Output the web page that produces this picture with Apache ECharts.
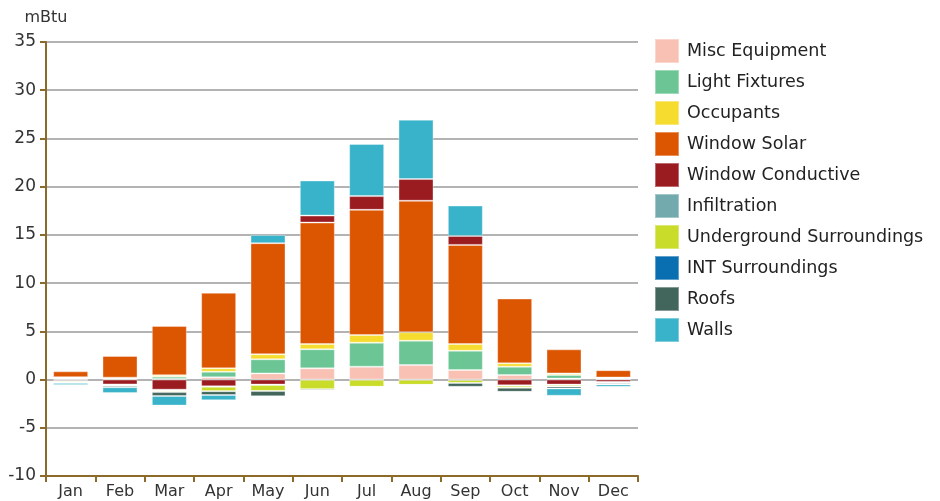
<!DOCTYPE html>
<html>
<head>
<meta charset="utf-8">
<title>mBtu</title>
<script src="https://cdn.jsdelivr.net/npm/echarts@6/dist/echarts.min.js"></script>
<style>
  html, body { margin: 0; padding: 0; background: #fff; }
  #loadChart { width: 940px; height: 501px; }
</style>
</head>
<body>
<div id="loadChart"></div>
<script>
// 月份
var months = ['Jan', 'Feb', 'Mar', 'Apr', 'May', 'Jun', 'Jul', 'Aug', 'Sep', 'Oct', 'Nov', 'Dec'];
// y轴刻度
var yTicks = [-10, -5, 0, 5, 10, 15, 20, 25, 30, 35];

// 各分项负荷 (mBtu)
var miscEquipment  = [0.05, 0.05, 0.05, 0.23, 0.64, 1.16, 1.33, 1.50, 0.99, 0.47, 0.10, 0.03];
var lightFixtures  = [0.10, 0.10, 0.25, 0.58, 1.46, 1.98, 2.49, 2.53, 2.00, 0.86, 0.37, 0.10];
var occupants      = [0.10, 0.05, 0.15, 0.35, 0.52, 0.55, 0.80, 0.87, 0.69, 0.35, 0.17, 0.08];
var windowSolar    = [0.60, 2.25, 5.10, 7.84, 11.52, 12.59, 12.98, 13.64, 10.28, 6.72, 2.49, 0.76];
var windowConduct  = [-0.12, -0.50, -1.05, -0.70, -0.52, 0.72, 1.42, 2.25, 0.93, -0.60, -0.52, -0.25];
var infiltration   = [-0.03, -0.05, -0.10, -0.05, -0.05, -0.03, -0.03, -0.03, -0.05, -0.05, -0.05, -0.03];
var underground    = [-0.12, -0.10, -0.15, -0.45, -0.62, -0.97, -0.72, -0.52, -0.30, -0.20, -0.15, -0.10];
var intSurround    = [0, 0, 0, 0, 0, 0, 0, 0, 0, 0, 0, 0];
var roofs          = [-0.10, -0.15, -0.40, -0.40, -0.55, -0.13, 0, 0, -0.40, -0.42, -0.20, -0.12];
var walls          = [-0.20, -0.60, -1.00, -0.55, 0.86, 3.64, 5.40, 6.16, 3.15, -0.05, -0.76, -0.25];

loadChart = {
    init: function () {
        loadChart.renderChart();
    },
    buildSeries: function () {
        var list = [
            ['Misc Equipment', miscEquipment, '#f9c1b3'],
            ['Light Fixtures', lightFixtures, '#6bc595'],
            ['Occupants', occupants, '#f5dc2e'],
            ['Window Solar', windowSolar, '#dc5500'],
            ['Window Conductive', windowConduct, '#9a1c20'],
            ['Infiltration', infiltration, '#73aaae'],
            ['Underground Surroundings', underground, '#c9dc2a'],
            ['INT Surroundings', intSurround, '#0a6fb0'],
            ['Roofs', roofs, '#43665c'],
            ['Walls', walls, '#38b3c9']
        ];
        var series = [];
        for (var i = 0; i < list.length; i++) {
            series.push({
                name: list[i][0],
                type: 'bar',
                stack: 'load',
                barWidth: 35,
                itemStyle: {
                    color: list[i][2],
                    borderColor: 'rgba(255,255,255,0.35)',
                    borderWidth: 1
                },
                data: list[i][1]
            });
        }
        return series;
    },
    renderChart: function () {
        var chart = echarts.init(document.getElementById('loadChart'));
        var option = {
            animation: false,
            textStyle: { fontFamily: 'DejaVu Sans' },
            legend: {
                orient: 'vertical',
                left: 649,
                top: 33,
                itemWidth: 24,
                itemHeight: 24,
                itemGap: 5,
                icon: 'rect',
                textStyle: { fontSize: 17.5, color: '#222', padding: [0, 0, 0, 3] }
            },
            grid: {
                left: 46,
                right: 302,
                top: 42,
                bottom: 25
            },
            xAxis: {
                type: 'category',
                data: months,
                axisLine: { onZero: false, lineStyle: { color: '#8b6a2a', width: 2 } },
                axisTick: { show: true, interval: 0, length: 6, lineStyle: { color: '#8b6a2a', width: 2 } },
                axisLabel: { fontSize: 16, color: '#333', margin: 8, interval: 0 }
            },
            yAxis: {
                type: 'value',
                name: 'mBtu',
                nameGap: 16,
                nameTextStyle: { fontSize: 16, color: '#333' },
                min: yTicks[0],
                max: yTicks[yTicks.length - 1],
                interval: 5,
                axisLine: { show: true, lineStyle: { color: '#8b6a2a', width: 2 } },
                axisTick: { show: true, length: 6, lineStyle: { color: '#8b6a2a', width: 2 } },
                axisLabel: { fontSize: 17, color: '#333', margin: 10 },
                splitLine: { lineStyle: { color: '#b3b3b3', width: 2 } }
            },
            series: loadChart.buildSeries()
        };
        chart.setOption(option, false);
    }
};

loadChart.init();
</script>
</body>
</html>
